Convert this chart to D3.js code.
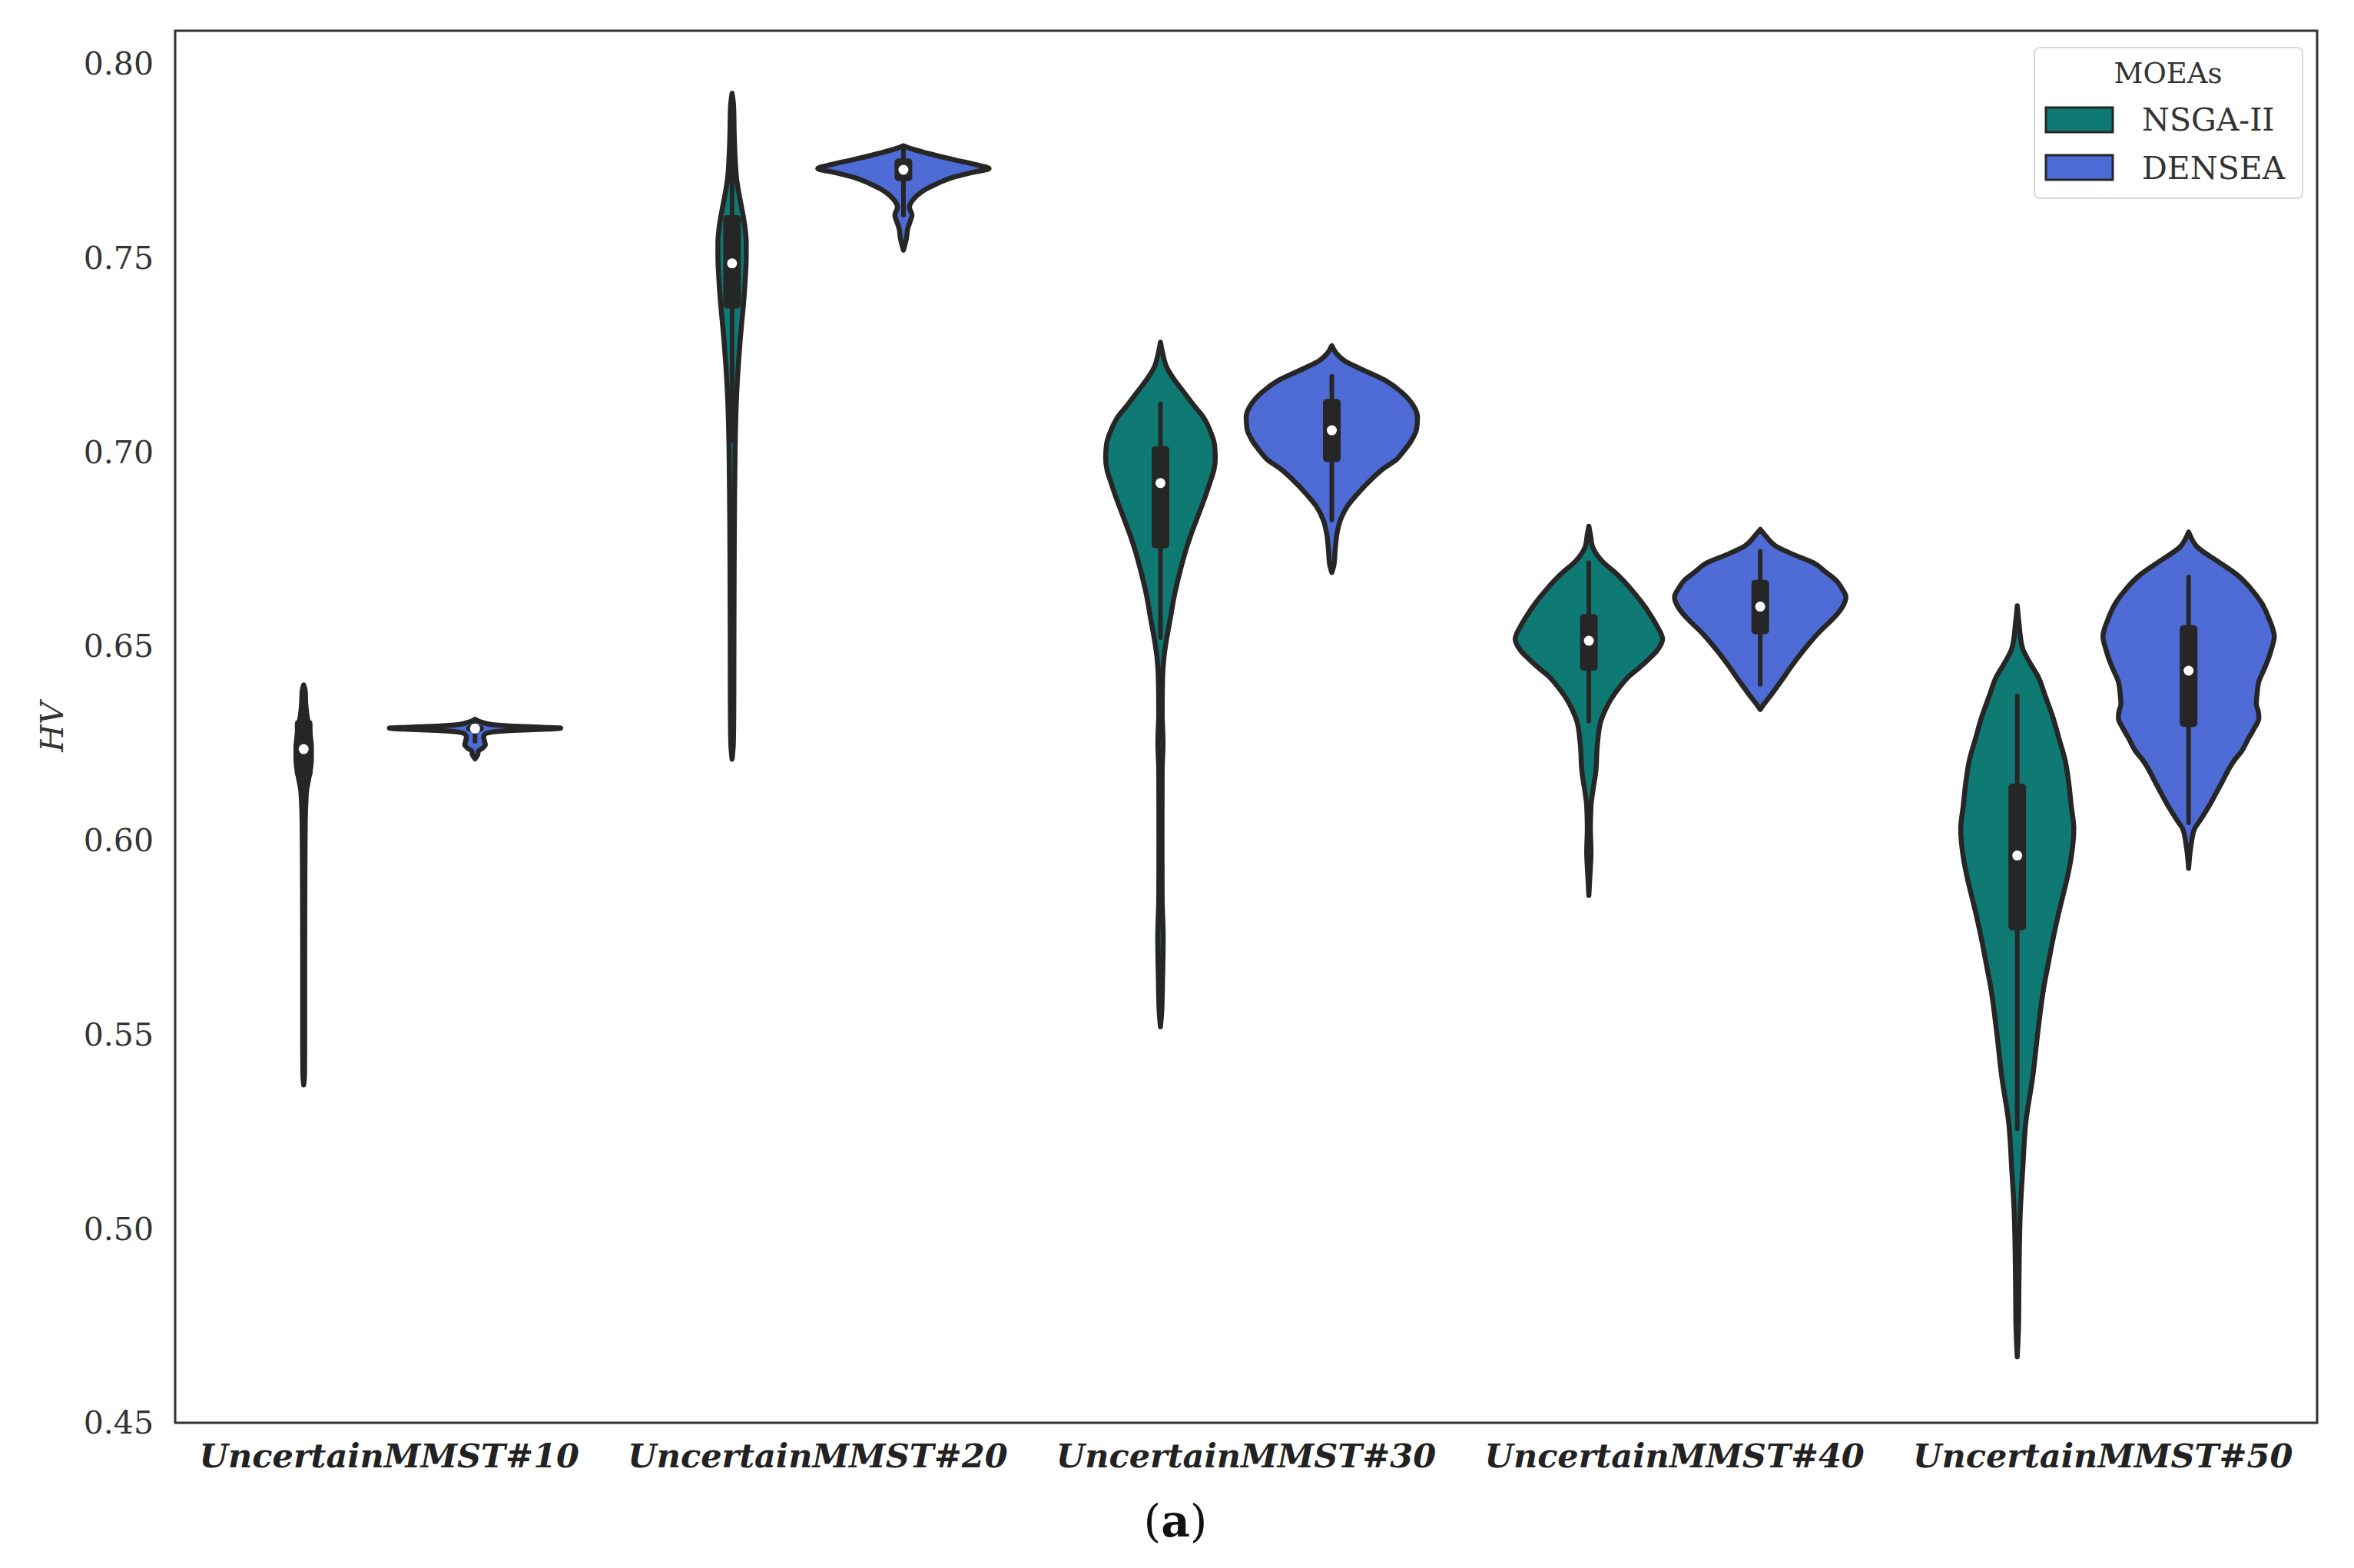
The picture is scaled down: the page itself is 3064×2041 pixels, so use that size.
<!DOCTYPE html>
<html>
<head>
<meta charset="utf-8">
<script src="https://cdn.jsdelivr.net/npm/d3@7"></script>
<style>
  body { margin: 0; background: #ffffff; }
  text { font-family: "DejaVu Serif", serif; }
</style>
</head>
<body>
<div id="chart"></div>
<script>
// categories and groups
var categories = ["UncertainMMST#10", "UncertainMMST#20", "UncertainMMST#30", "UncertainMMST#40", "UncertainMMST#50"];
var hues = ["NSGA-II", "DENSEA"];
var yTicks = [0.45, 0.50, 0.55, 0.60, 0.65, 0.70, 0.75, 0.80];

// violin outlines: [HV value, relative half width]
var nsga10 = [[0.6400,0],[0.6385,0.018],[0.6350,0.025],[0.6320,0.04],[0.6295,0.06],[0.6265,0.08],[0.6240,0.09],[0.6210,0.09],[0.6185,0.08],[0.6160,0.06],[0.6130,0.035],[0.6090,0.024],[0.6040,0.018],[0.5900,0.014],[0.5700,0.012],[0.5500,0.012],[0.5400,0.01],[0.5370,0]];
var nsga20 = [[0.7924,0],[0.7890,0.018],[0.7820,0.025],[0.7760,0.035],[0.7700,0.055],[0.7660,0.085],[0.7620,0.12],[0.7580,0.15],[0.7540,0.165],[0.7500,0.165],[0.7450,0.155],[0.7400,0.14],[0.7350,0.12],[0.7290,0.095],[0.7230,0.075],[0.7170,0.058],[0.7100,0.045],[0.7000,0.035],[0.6900,0.03],[0.6750,0.025],[0.6550,0.022],[0.6350,0.02],[0.6250,0.015],[0.6209,0]];
var nsga30 = [[0.7283,0],[0.7255,0.025],[0.7220,0.07],[0.7190,0.15],[0.7155,0.27],[0.7120,0.39],[0.7090,0.5],[0.7055,0.58],[0.7020,0.63],[0.6985,0.64],[0.6955,0.625],[0.6923,0.58],[0.6890,0.53],[0.6860,0.48],[0.6825,0.42],[0.6790,0.36],[0.6750,0.30],[0.6690,0.225],[0.6628,0.16],[0.6565,0.11],[0.6510,0.065],[0.6470,0.04],[0.6420,0.025],[0.6330,0.02],[0.6250,0.03],[0.6180,0.02],[0.6000,0.018],[0.5850,0.02],[0.5750,0.032],[0.5650,0.025],[0.5560,0.015],[0.5520,0]];
var nsga40 = [[0.6809,0],[0.6785,0.02],[0.6758,0.04],[0.6720,0.15],[0.6685,0.33],[0.6650,0.48],[0.6612,0.62],[0.6580,0.72],[0.6554,0.79],[0.6518,0.86],[0.6490,0.8],[0.6467,0.7],[0.6445,0.59],[0.6423,0.47],[0.6395,0.36],[0.6364,0.26],[0.6335,0.19],[0.6307,0.14],[0.6248,0.1],[0.6175,0.08],[0.6132,0.05],[0.6089,0.025],[0.6030,0.018],[0.5970,0.025],[0.5920,0.015],[0.5858,0]];
var nsga50 = [[0.6604,0],[0.6560,0.02],[0.6496,0.06],[0.6460,0.14],[0.6423,0.24],[0.6370,0.33],[0.6321,0.41],[0.6260,0.49],[0.6205,0.56],[0.6150,0.6],[0.6089,0.63],[0.6030,0.66],[0.5957,0.63],[0.5900,0.58],[0.5855,0.53],[0.5800,0.47],[0.5738,0.41],[0.5680,0.36],[0.5622,0.31],[0.5506,0.24],[0.5390,0.18],[0.5274,0.1],[0.5157,0.065],[0.5040,0.035],[0.4865,0.02],[0.4750,0.015],[0.4670,0]];

var dens10 = [[0.6312,0],[0.6304,0.08],[0.6298,0.2],[0.6294,0.45],[0.6291,0.8],[0.6289,1.0],[0.6286,0.8],[0.6283,0.45],[0.6279,0.2],[0.6274,0.12],[0.6266,0.1],[0.6256,0.11],[0.6246,0.12],[0.6238,0.09],[0.6230,0.04],[0.6220,0.03],[0.6210,0]];
var dens20 = [[0.7789,0],[0.7782,0.08],[0.7770,0.27],[0.7754,0.57],[0.7740,0.85],[0.7730,1.0],[0.7720,0.8],[0.7707,0.57],[0.7690,0.38],[0.7678,0.27],[0.7652,0.12],[0.7630,0.07],[0.7610,0.1],[0.7595,0.08],[0.7575,0.05],[0.7550,0.035],[0.7520,0]];
var dens30 = [[0.7274,0],[0.7255,0.05],[0.7235,0.15],[0.7218,0.3],[0.7185,0.62],[0.7153,0.82],[0.7120,0.95],[0.7090,1.0],[0.7060,0.99],[0.7030,0.93],[0.7000,0.83],[0.6982,0.76],[0.6957,0.6],[0.6923,0.43],[0.6890,0.29],[0.6860,0.18],[0.6825,0.1],[0.6790,0.06],[0.6750,0.04],[0.6710,0.025],[0.6690,0]];
var dens40 = [[0.6801,0],[0.6785,0.06],[0.6758,0.18],[0.6735,0.4],[0.6715,0.62],[0.6690,0.77],[0.6671,0.88],[0.6650,0.95],[0.6627,1.0],[0.6605,0.97],[0.6583,0.9],[0.6560,0.8],[0.6539,0.7],[0.6496,0.53],[0.6453,0.38],[0.6409,0.24],[0.6364,0.09],[0.6350,0.04],[0.6337,0]];
var dens50 = [[0.6794,0],[0.6775,0.04],[0.6758,0.09],[0.6720,0.33],[0.6685,0.56],[0.6650,0.72],[0.6612,0.85],[0.6570,0.94],[0.6525,1.0],[0.6495,0.97],[0.6467,0.93],[0.6440,0.88],[0.6409,0.82],[0.6380,0.8],[0.6350,0.79],[0.6335,0.81],[0.6315,0.82],[0.6290,0.77],[0.6263,0.7],[0.6230,0.62],[0.6205,0.53],[0.6146,0.38],[0.6089,0.24],[0.6050,0.13],[0.6030,0.07],[0.5990,0.03],[0.5928,0]];

// inner box: [whisker low, q1, median, q3, whisker high]
var nsgaStats = [[0.6045,0.6163,0.6235,0.6311,0.6400],[0.7030,0.7370,0.7486,0.7610,0.7924],[0.6522,0.6752,0.6920,0.7015,0.7124],[0.6307,0.6437,0.6514,0.6583,0.6715],[0.5258,0.5768,0.5961,0.6146,0.6372]];
var densStats = [[0.6255,0.6280,0.6288,0.6297,0.6305],[0.7610,0.7698,0.7727,0.7756,0.7789],[0.6825,0.6974,0.7056,0.7137,0.7195],[0.6402,0.6531,0.6602,0.6671,0.6744],[0.6045,0.6292,0.6437,0.6554,0.6678]];

var profiles = {"NSGA-II": [nsga10, nsga20, nsga30, nsga40, nsga50], "DENSEA": [dens10, dens20, dens30, dens40, dens50]};
var stats = {"NSGA-II": nsgaStats, "DENSEA": densStats};
var colors = {"NSGA-II": "#0f7a74", "DENSEA": "#4e6bd6"};
var gray = "#262626";

var w = 3064, h = 2041;
var mLeft = 228, mRight = 3016, mTop = 40, mBottom = 1852;

var svg = d3.select("#chart").append("svg")
  .attr("width", w)
  .attr("height", h);
svg.append("rect").attr("width", w).attr("height", h).attr("fill", "#ffffff");

var x = d3.scaleBand().domain(categories).range([mLeft, mRight]);
var bw = x.bandwidth();
var hueX = d3.scaleBand().domain(hues).range([-0.4 * bw, 0.4 * bw]);
var y = d3.scaleLinear().domain([0.45, 0.80]).range([mBottom, 83]);
var half = d3.scaleLinear().domain([0, 1]).range([0, hueX.bandwidth() / 2]);

// y tick labels (no tick marks in this style)
svg.append("g").selectAll("text")
  .data(yTicks)
  .join("text")
  .attr("x", mLeft - 28)
  .attr("y", d => y(d))
  .attr("dy", "0.35em")
  .attr("text-anchor", "end")
  .attr("font-size", 41)
  .attr("fill", "#333")
  .text(d => d.toFixed(2));

// x category labels
svg.append("g").selectAll("text")
  .data(categories)
  .join("text")
  .attr("x", d => x(d) + bw / 2)
  .attr("y", 1910)
  .attr("text-anchor", "middle")
  .attr("font-size", 43)
  .attr("font-weight", "bold")
  .attr("font-style", "italic")
  .attr("fill", "#222")
  .text(d => d);

svg.append("text")
  .attr("transform", "translate(82," + ((mTop + mBottom) / 2) + ") rotate(-90)")
  .attr("text-anchor", "middle")
  .attr("font-size", 41)
  .attr("font-style", "italic")
  .attr("fill", "#333")
  .text("HV");

// violins
var plot = svg.append("g");
hues.forEach(function(hue) {
  categories.forEach(function(cat, i) {
    var cx = x(cat) + bw / 2 + hueX(hue) + hueX.bandwidth() / 2;
    var pts = profiles[hue][i].slice().sort((a, b) => a[0] - b[0]);
    var area = d3.area()
      .y(d => y(d[0]))
      .x0(d => cx - half(d[1]))
      .x1(d => cx + half(d[1]))
      .curve(d3.curveMonotoneY);
    plot.append("path")
      .attr("d", area(pts))
      .attr("fill", colors[hue])
      .attr("stroke", gray)
      .attr("stroke-width", 6.5)
      .attr("stroke-linejoin", "round");

    var s = stats[hue][i];
    plot.append("line")
      .attr("x1", cx).attr("x2", cx)
      .attr("y1", y(s[0])).attr("y2", y(s[4]))
      .attr("stroke", gray)
      .attr("stroke-width", 6)
      .attr("stroke-linecap", "round");
    plot.append("rect")
      .attr("x", cx - 11.5)
      .attr("width", 23)
      .attr("y", y(s[3]))
      .attr("height", y(s[1]) - y(s[3]))
      .attr("rx", 5)
      .attr("fill", gray);
    plot.append("circle")
      .attr("cx", cx)
      .attr("cy", y(s[2]))
      .attr("r", 6.5)
      .attr("fill", "#ffffff");
  });
});

// frame
svg.append("rect")
  .attr("x", mLeft).attr("y", mTop)
  .attr("width", mRight - mLeft).attr("height", mBottom - mTop)
  .attr("fill", "none")
  .attr("stroke", "#333")
  .attr("stroke-width", 3);

// legend
var legend = svg.append("g");
legend.append("rect")
  .attr("x", 2648).attr("y", 62)
  .attr("width", 349).attr("height", 196)
  .attr("rx", 7)
  .attr("fill", "#ffffff")
  .attr("stroke", "#d9d9d9")
  .attr("stroke-width", 2);
legend.append("text")
  .attr("x", 2822).attr("y", 108)
  .attr("text-anchor", "middle")
  .attr("font-size", 37)
  .attr("fill", "#333")
  .text("MOEAs");
hues.forEach(function(hue, i) {
  legend.append("rect")
    .attr("x", 2663).attr("y", 140 + i * 62)
    .attr("width", 87).attr("height", 32)
    .attr("fill", colors[hue])
    .attr("stroke", gray)
    .attr("stroke-width", 3);
  legend.append("text")
    .attr("x", 2788).attr("y", 170 + i * 63)
    .attr("font-size", 41)
    .attr("fill", "#333")
    .text(hue);
});

// panel caption
var cap = svg.append("text")
  .attr("x", 1530).attr("y", 2000)
  .attr("text-anchor", "middle")
  .attr("font-family", "Liberation Serif")
  .attr("font-size", 58)
  .attr("fill", "#111");
cap.append("tspan").text("(");
cap.append("tspan").attr("font-weight", "bold").text("a");
cap.append("tspan").text(")");
</script>
</body>
</html>
